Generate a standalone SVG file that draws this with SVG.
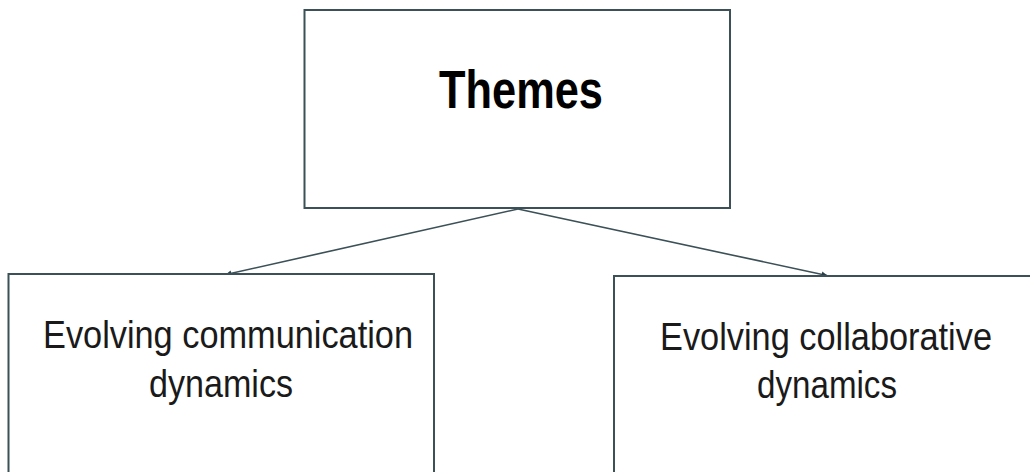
<svg xmlns="http://www.w3.org/2000/svg" width="1030" height="472" viewBox="0 0 1030 472">
  <style>
    .box { fill: #ffffff; stroke: #3b5057; stroke-width: 2; }
    .edge { fill: none; stroke: #3b5057; stroke-width: 1.6; }
    .title { font-family: "Liberation Sans", Arial, sans-serif; font-weight: bold; font-size: 53px; fill: #000; }
    .label { font-family: "Liberation Sans", Arial, sans-serif; font-size: 38px; fill: #1a1a1a; }
  </style>
  <defs>
    <marker id="arrow" viewBox="0 0 10 10" refX="9" refY="5" markerWidth="7" markerHeight="6" orient="auto" markerUnits="userSpaceOnUse">
      <path d="M0,0 L10,5 L0,10 z" fill="#2a4048"/>
    </marker>
  </defs>
  <rect width="1030" height="472" fill="#ffffff"/>

  <g id="connectors">
    <line class="edge" x1="518" y1="209" x2="226" y2="274.5" marker-end="url(#arrow)"/>
    <line class="edge" x1="518" y1="209" x2="827" y2="275.5" marker-end="url(#arrow)"/>
  </g>

  <g id="node-themes">
    <rect class="box" x="304.5" y="10" width="425.5" height="198"/>
    <text class="title" x="439" y="108" textLength="164" lengthAdjust="spacingAndGlyphs">Themes</text>
  </g>

  <g id="node-communication">
    <rect class="box" x="8.5" y="274" width="425.5" height="210"/>
    <text class="label" x="43" y="348" textLength="370" lengthAdjust="spacingAndGlyphs">Evolving communication</text>
    <text class="label" x="149" y="397" textLength="144" lengthAdjust="spacingAndGlyphs">dynamics</text>
  </g>

  <g id="node-collaborative">
    <rect class="box" x="614" y="276" width="430" height="210"/>
    <text class="label" x="660" y="350" textLength="332" lengthAdjust="spacingAndGlyphs">Evolving collaborative</text>
    <text class="label" x="757" y="398" textLength="140" lengthAdjust="spacingAndGlyphs">dynamics</text>
  </g>
</svg>
